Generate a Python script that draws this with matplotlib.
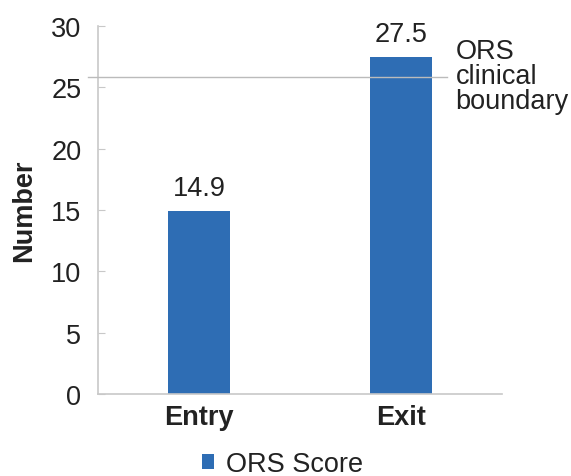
import matplotlib.pyplot as plt
from matplotlib.patches import Patch

categories = ['Entry', 'Exit']
ors_score = [14.9, 27.5]
boundary = 25.8
boundary_label = 'ORS\nclinical\nboundary'

bar_color = '#2E6DB4'
text_color = '#222222'
axis_color = '#C8C8C8'
FAM = 'Liberation Sans'
FS = 19.5


def main():
    fig = plt.figure(figsize=(5.71, 4.77), dpi=100)
    ax = fig.add_axes([0.1716, 0.172, 0.7075, 0.7715])

    x = range(len(categories))
    ax.bar(x, ors_score, width=0.31, color=bar_color, zorder=2)
    for xi, v in zip(x, ors_score):
        ax.text(xi, v + 0.8, f'{v}', ha='center', va='bottom', fontsize=FS,
                color=text_color, family=FAM)

    ax.set_xlim(-0.5, 1.5)
    ax.set_ylim(0, 30)
    ax.set_yticks(range(0, 31, 5))
    ax.set_xticks(list(x))
    ax.set_xticklabels(categories, fontsize=FS, weight='bold', color=text_color,
                       family=FAM)
    for lab in ax.get_yticklabels():
        lab.set_family(FAM)
        lab.set_fontsize(FS)
        lab.set_color(text_color)
    ax.tick_params(axis='y', direction='in', length=5, color=axis_color, pad=12)
    ax.tick_params(axis='x', length=0, pad=7)

    for s in ['top', 'right']:
        ax.spines[s].set_visible(False)
    for s in ['left', 'bottom']:
        ax.spines[s].set_color(axis_color)
        ax.spines[s].set_linewidth(1.2)

    # clinical boundary line, runs past the left spine and past the exit bar
    ax.plot([-0.55, 1.23], [boundary, boundary], color='#BBBBBB', lw=1,
            clip_on=False, zorder=3)
    ax.text(1.27, boundary + 0.1, boundary_label, ha='left', va='center',
            fontsize=FS, color=text_color, family=FAM, linespacing=0.95)

    ax.set_ylabel('Number', fontsize=FS, weight='bold', color=text_color,
                  family=FAM, labelpad=10)

    handle = Patch(facecolor=bar_color, label='ORS Score')
    leg = fig.legend(handles=[handle], loc='center', bbox_to_anchor=(0.495, 0.025),
                     frameon=False, handlelength=0.45, handleheight=0.45,
                     handletextpad=0.45, prop={'family': FAM, 'size': FS})
    for t in leg.get_texts():
        t.set_color(text_color)

    fig.savefig('out.png', dpi=100)


if __name__ == '__main__':
    main()
